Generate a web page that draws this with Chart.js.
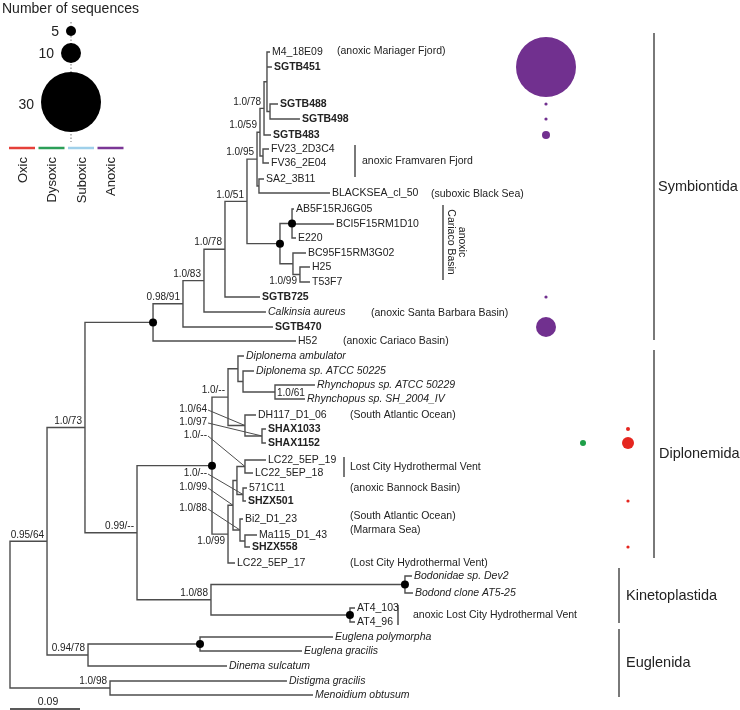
<!DOCTYPE html>
<html>
<head>
<meta charset="utf-8">
<script src="https://cdn.jsdelivr.net/npm/chart.js@4.4.1/dist/chart.umd.min.js"></script>
<style>
  html, body { margin: 0; padding: 0; background: #fff; }
  canvas { display: block; }
</style>
</head>
<body>
<canvas id="tree" width="740" height="710"></canvas>
<script>
// ---------- tree data (depth = substitutions/site from root) ----------
const nodeIds = ['root','n64','n73','sym','n91','n83','n78b','n51','n95','n59','n78','nIn','n488','nFV','nSA',
                 'car','car1','car2','car3','n99','dip','dA','dB','dC','dR','dE','dF','dG','dH','dH2','dL','dS',
                 'dBM','dM','kin','bodo','at4','n94','eug','n98'];
const nodeParent = [null,'root','n64','n73','sym','n91','n83','n78b','n51','n95','n59','n78','nIn','n59','n95',
                    'n51','car','car','car2','n73','n99','dip','dA','dB','dC','dA','dE','dip','dG','dH','dH2','dH2',
                    'dH','dBM','n99','kin','kin','n64','n94','root'];
const nodeDepth = [0, 0.0476, 0.0964, 0.1839, 0.2224, 0.2494, 0.2764, 0.3047, 0.3176, 0.3214, 0.3266, 0.3304, 0.3343, 0.3253, 0.3201,
                   0.3471, 0.3626, 0.3638, 0.3728, 0.1633, 0.2597, 0.2803, 0.2931, 0.2996, 0.3407, 0.3021, 0.3240, 0.2803, 0.2867, 0.2918, 0.3021, 0.2996,
                   0.2957, 0.3021, 0.2584, 0.5078, 0.4371, 0.1003, 0.2443, 0.1286];
const nodeSupport = ['','0.95/64','1.0/73','','0.98/91','1.0/83','1.0/78','1.0/51','1.0/95','1.0/59','1.0/78','','','','',
                     '','','','1.0/99','0.99/--','','1.0/--','','','1.0/61','1.0/64','1.0/97','1.0/99','1.0/99','','1.0/--','1.0/--',
                     '1.0/88','','1.0/88','','','0.94/78','','1.0/98'];
// nodes with full support (drawn as dots)
const dotNodes = ['sym','car','car1','dip','bodo','at4','eug'];

const leafNames = ['M4_18E09','SGTB451','SGTB488','SGTB498','SGTB483','FV23_2D3C4','FV36_2E04','SA2_3B11','BLACKSEA_cl_50',
  'AB5F15RJ6G05','BCI5F15RM1D10','E220','BC95F15RM3G02','H25','T53F7','SGTB725','Calkinsia aureus','SGTB470','H52',
  'Diplonema ambulator','Diplonema sp. ATCC 50225','Rhynchopus sp. ATCC 50229','Rhynchopus sp. SH_2004_IV','DH117_D1_06',
  'SHAX1033','SHAX1152','LC22_5EP_19','LC22_5EP_18','571C11','SHZX501','Bi2_D1_23','Ma115_D1_43','SHZX558','LC22_5EP_17',
  'Bodonidae sp. Dev2','Bodond clone AT5-25','AT4_103','AT4_96',
  'Euglena polymorpha','Euglena gracilis','Dinema sulcatum','Distigma gracilis','Menoidium obtusum'];
const leafParent = ['nIn','nIn','n488','n488','n78','nFV','nFV','nSA','nSA',
  'car1','car1','car1','car2','car3','car3','n78b','n83','n91','sym',
  'dB','dC','dR','dR','dE','dF','dF','dL','dL','dS','dS','dBM','dM','dM','dG',
  'bodo','bodo','at4','at4','eug','eug','n94','n98','n98'];
const leafDepth = [0.3343,0.3368,0.3446,0.3728,0.3356,0.3330,0.3330,0.3266,0.4114,
  0.3651,0.4166,0.3677,0.3806,0.3857,0.3857,0.3214,0.3291,0.3381,0.3677,
  0.3009,0.3137,0.3921,0.3793,0.3163,0.3291,0.3291,0.3291,0.3124,0.3047,0.3034,0.2996,0.3176,0.3086,0.2893,
  0.5168,0.5181,0.4436,0.4436,0.4153,0.3754,0.2790,0.3561,0.3896];
// vertical row of each tip
const leafY = [52,67,104,119,135,149,163,179,193,
  209,224,238,253,267,282,297,312,327,341,
  356,371,385,399,415,429,443,460,473,488,501,519,535,547,563,
  576,593,608,622,637,651,666,681,695];
// b = this study (bold), i = named species (italic), n = environmental clone
const leafStyle = ['n','b','b','b','b','n','n','n','n',
  'n','n','n','n','n','n','b','i','b','n',
  'i','i','i','i','n','b','b','n','n','n','b','n','n','b','n',
  'i','i','n','n','i','i','i','i','i'];

// sequences recovered per phylotype and oxygen regime
const seqLeaf   = ['SGTB451','SGTB488','SGTB498','SGTB483','SGTB725','SGTB470','SHAX1033','SHAX1152','SHAX1152','SHZX501','SHZX558'];
const seqOxygen = ['Anoxic','Anoxic','Anoxic','Anoxic','Anoxic','Anoxic','Oxic','Oxic','Dysoxic','Oxic','Oxic'];
const seqCount  = [30, 1, 1, 4, 1, 10, 2, 6, 3, 1, 1];
const oxygenLevels = ['Oxic','Dysoxic','Suboxic','Anoxic'];
const legendCounts = [5, 10, 30];
const scaleBarLength = 0.09;

const clades = ['Symbiontida','Diplonemida','Kinetoplastida','Euglenida'];
const envNotes = ['(anoxic Mariager Fjord)','(suboxic Black Sea)','(anoxic Santa Barbara Basin)','(anoxic Cariaco Basin)',
  '(South Atlantic Ocean)','(anoxic Bannock Basin)','(South Atlantic Ocean)','(Marmara Sea)','(Lost City Hydrothermal Vent)'];
const envGroups = ['anoxic Framvaren Fjord','Lost City Hydrothermal Vent','anoxic Lost City Hydrothermal Vent'];

// ---------- layout (pixels) ----------
const W = 740, H = 710;
const PX_PER_UNIT = 70 / scaleBarLength;  // scale bar drawn 70px long
const ROOT_PX = 10;
const X_MIN = -ROOT_PX / PX_PER_UNIT, X_MAX = (W - ROOT_PX) / PX_PER_UNIT;
const ux = px => (px - ROOT_PX) / PX_PER_UNIT;

const oxygenColour = { Oxic: '#e5261f', Dysoxic: '#1e9f48', Suboxic: '#86c9e6', Anoxic: '#71308f' };
const legendLineColour = ['#e5403a', '#2c9f58', '#9fd0ea', '#7b3796'];
const oxygenColumnPx = { Oxic: 628, Dysoxic: 583, Suboxic: 605, Anoxic: 546 };
const cladeBarPx = [[654, 33, 340], [654, 350, 558], [619, 568, 623], [619, 629, 697]];
const cladeTextPx = [658, 659, 626, 626];
const envNotePx = [[337, 51], [431, 194], [371, 313], [343, 341], [350, 415], [350, 488], [350, 516], [350, 530], [350, 563]];
const envGroupPx = [[355, 145, 177, 362], [344, 457, 477, 350], [398, 605, 625, 413]];
const cariacoBar = [443, 205, 280];
const legendCirclePx = [31, 53, 102];
const legendX = 71;
const supportBelow = ['car3', 'dG'];
const supportInside = ['dR'];
const supportLeader = { dE: 409, dF: 422, dL: 435, dS: 473, dH: 487, dBM: 508 };
const LINE = '#4d4d4d', TEXT = '#222';
const FONT = "'Liberation Sans', Arial, Helvetica, sans-serif";

// ---------- build tree geometry ----------
const nodes = {};
nodeIds.forEach((id, i) => nodes[id] = { id, parent: nodeParent[i], x: nodeDepth[i], y: null, kids: [] });
const leaves = leafNames.map((n, i) => ({ id: n, parent: leafParent[i], x: leafDepth[i], y: leafY[i] }));
nodeIds.forEach(id => { const p = nodes[id].parent; if (p) nodes[p].kids.push(nodes[id]); });
leaves.forEach(l => nodes[l.parent].kids.push(l));
function place(n) {
  if (n.y !== null) return n.y;
  const ys = n.kids.map(place);
  n.y = (Math.min(...ys) + Math.max(...ys)) / 2;
  return n.y;
}
place(nodes.root);

const GAP = { x: NaN, y: NaN };
const branches = [];
[...nodeIds.map(id => nodes[id]), ...leaves].forEach(c => {
  if (!c.parent) return;
  const p = nodes[c.parent];
  branches.push({ x: p.x, y: p.y }, { x: p.x, y: c.y }, { x: c.x, y: c.y }, GAP);
});

const leaders = [];
Object.keys(supportLeader).forEach(id => {
  leaders.push({ x: ux(208), y: supportLeader[id] + 1 }, { x: nodes[id].x, y: nodes[id].y }, GAP);
});

const bars = [];
cladeBarPx.forEach(b => bars.push({ x: ux(b[0]), y: b[1] }, { x: ux(b[0]), y: b[2] }, GAP));
envGroupPx.forEach(b => bars.push({ x: ux(b[0]), y: b[1] }, { x: ux(b[0]), y: b[2] }, GAP));
bars.push({ x: ux(cariacoBar[0]), y: cariacoBar[1] }, { x: ux(cariacoBar[0]), y: cariacoBar[2] }, GAP);

const leafIndex = name => leafNames.indexOf(name);
const radius = n => n <= 1 ? 1.6 : n;
const bubbles = seqLeaf.map((leaf, i) => ({
  x: ux(oxygenColumnPx[seqOxygen[i]]), y: leafY[leafIndex(leaf)], r: radius(seqCount[i])
}));
const legendBubbles = legendCounts.map((n, i) => ({ x: ux(legendX), y: legendCirclePx[i], r: radius(n) }));

const legendLines = [];
oxygenLevels.forEach((o, i) => {
  const x0 = 9 + i * 29.5;
  legendLines.push({ x: ux(x0), y: 148 }, { x: ux(x0 + 26), y: 148 }, GAP);
});

// ---------- text drawing ----------
const textPlugin = {
  id: 'treeText',
  afterDatasetsDraw(chart) {
    const c = chart.ctx, xs = chart.scales.x, ys = chart.scales.y;
    const px = v => xs.getPixelForValue(v), py = v => ys.getPixelForValue(v);
    c.save();
    c.fillStyle = TEXT;
    c.textBaseline = 'middle';

    // tip labels
    leafNames.forEach((n, i) => {
      const st = leafStyle[i];
      c.font = (st === 'b' ? 'bold ' : st === 'i' ? 'italic ' : '') + '10.5px ' + FONT;
      c.textAlign = 'left';
      c.fillText(n, px(leafDepth[i]) + 2, py(leafY[i]) + 0.5);
    });

    // support values
    c.font = '10px ' + FONT;
    nodeIds.forEach((id, i) => {
      const s = nodeSupport[i];
      if (!s) return;
      const n = nodes[id], x = px(n.x), y = py(n.y);
      if (supportLeader[id] !== undefined) {
        c.textAlign = 'right';
        c.fillText(s, 207, supportLeader[id]);
      } else if (supportInside.includes(id)) {
        c.textAlign = 'left';
        c.fillText(s, x + 2, y + 1);
      } else if (supportBelow.includes(id)) {
        c.textAlign = 'right';
        c.fillText(s, x - 3, y + 7);
      } else {
        c.textAlign = 'right';
        c.fillText(s, x - 3, y - 6.5);
      }
    });

    // environment notes
    c.font = '10.5px ' + FONT;
    c.textAlign = 'left';
    envNotes.forEach((t, i) => c.fillText(t, envNotePx[i][0], envNotePx[i][1]));
    envGroups.forEach((t, i) => {
      const g = envGroupPx[i];
      c.fillText(t, g[3], (g[1] + g[2]) / 2);
    });
    // rotated Cariaco note
    c.save();
    c.translate(456, 242);
    c.rotate(Math.PI / 2);
    c.textAlign = 'center';
    c.fillText('anoxic', 0, -5.5);
    c.fillText('Cariaco Basin', 0, 5.5);
    c.restore();

    // clade names
    c.font = '14.5px ' + FONT;
    clades.forEach((t, i) => {
      const b = cladeBarPx[i];
      c.fillText(t, cladeTextPx[i], (b[1] + b[2]) / 2);
    });

    // scale bar label
    c.font = '10.5px ' + FONT;
    c.textAlign = 'center';
    c.fillText(String(scaleBarLength), px(scaleBarLength / 2) + 3, 702);

    // legend
    c.font = '14px ' + FONT;
    c.textAlign = 'left';
    c.fillText('Number of sequences', 2, 9);
    c.textAlign = 'right';
    legendCounts.forEach((n, i) => {
      c.fillText(String(n), legendX - radius(n) - 7, legendCirclePx[i] + (i === 2 ? 3 : 1));
    });
    c.font = '13px ' + FONT;
    oxygenLevels.forEach((o, i) => {
      c.save();
      c.translate(9 + i * 29.5 + 14, 157);
      c.rotate(-Math.PI / 2);
      c.textAlign = 'right';
      c.textBaseline = 'middle';
      c.fillText(o, 0, 0);
      c.restore();
    });
    c.restore();
  }
};

const lineSet = (data, colour, width, extra) => Object.assign({
  type: 'line', data, showLine: true, borderColor: colour, borderWidth: width,
  pointRadius: 0, spanGaps: false, fill: false, clip: false, tension: 0
}, extra || {});

new Chart(document.getElementById('tree').getContext('2d'), {
  type: 'scatter',
  data: {
    datasets: [
      { type: 'scatter', data: dotNodes.map(id => ({ x: nodes[id].x, y: nodes[id].y })),
        pointRadius: 4, backgroundColor: '#000', borderWidth: 0, clip: false },
      { type: 'bubble', data: bubbles, backgroundColor: seqOxygen.map(o => oxygenColour[o]), borderWidth: 0, clip: false },
      { type: 'bubble', data: legendBubbles, backgroundColor: '#000', borderWidth: 0, clip: false },
      lineSet([{ x: ux(legendX), y: 22 }, { x: ux(legendX), y: 142 }], '#777', 1, { borderDash: [1.5, 2] }),
      lineSet(legendLines, null, 2.5, { segment: { borderColor: ctx => legendLineColour[Math.floor(ctx.p0DataIndex / 3)] } }),
      lineSet(branches, LINE, 1.4),
      lineSet(leaders, LINE, 1),
      lineSet(bars, LINE, 1.5),
      lineSet([{ x: 0, y: 709 }, { x: scaleBarLength, y: 709 }], '#222', 1.5)
    ]
  },
  options: {
    responsive: false,
    animation: false,
    events: [],
    layout: { padding: 0, autoPadding: false },
    plugins: { legend: { display: false }, tooltip: { enabled: false } },
    scales: {
      x: { type: 'linear', display: false, min: X_MIN, max: X_MAX },
      y: { type: 'linear', display: false, min: 0, max: H, reverse: true }
    }
  },
  plugins: [textPlugin]
});
</script>
</body>
</html>
